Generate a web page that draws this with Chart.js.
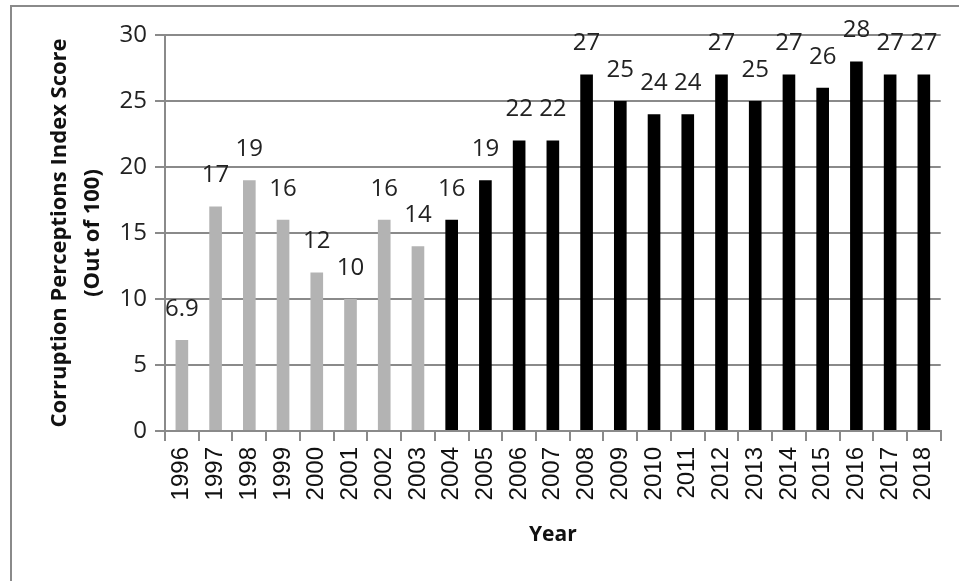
<!DOCTYPE html>
<html lang="en">
<head>
  <meta charset="UTF-8">
  <title>Corruption Perceptions Index Score</title>
  <script src="https://cdn.jsdelivr.net/npm/chart.js"></script>
  <style>
    html, body { margin: 0; padding: 0; background: #fff; overflow: hidden; }
    #wrap { position: relative; width: 959px; height: 581px; }
    #frame {
      position: absolute; left: 10px; top: 5px; width: 1000px; height: 700px;
      border-top: 2px solid #8a8a8a; border-left: 2px solid #8a8a8a;
    }
    #cpiChart { position: absolute; left: 0; top: 0; }
  </style>
</head>
<body>
  <div id="wrap">
    <div id="frame"></div>
    <canvas id="cpiChart" width="959" height="581"></canvas>
  </div>
  <script>
    // Chart data
    const years = ['1996', '1997', '1998', '1999', '2000', '2001', '2002', '2003',
      '2004', '2005', '2006', '2007', '2008', '2009', '2010', '2011',
      '2012', '2013', '2014', '2015', '2016', '2017', '2018'];
    const scores = [6.9, 17, 19, 16, 12, 10, 16, 14,
      16, 19, 22, 22, 27, 25, 24, 24,
      27, 25, 27, 26, 28, 27, 27];
    const yTicks = [0, 5, 10, 15, 20, 25, 30];
    const firstBlackYear = '2004';

    const GRAY = '#b3b3b3';
    const BLACK = '#000000';
    const AXIS = '#8a8a8a';

    // Draw value labels above each bar
    const valueLabels = {
      id: 'valueLabels',
      afterDatasetsDraw(chart) {
        const ctx = chart.ctx;
        const meta = chart.getDatasetMeta(0);
        ctx.save();
        ctx.font = '24px "Open Sans"';
        ctx.fillStyle = '#222';
        ctx.textAlign = 'center';
        ctx.textBaseline = 'middle';
        meta.data.forEach((bar, i) => {
          ctx.fillText(String(scores[i]), bar.x, bar.y - 31);
        });
        ctx.restore();
      }
    };

    new Chart(document.getElementById('cpiChart').getContext('2d'), {
      type: 'bar',
      data: {
        labels: years,
        datasets: [{
          label: 'CPI Score',
          data: scores,
          backgroundColor: years.map(y => y < firstBlackYear ? GRAY : BLACK),
          barPercentage: 0.375,
          categoryPercentage: 1.0
        }]
      },
      options: {
        responsive: false,
        animation: false,
        devicePixelRatio: 1,
        layout: { padding: { top: 35, right: 16, left: 0, bottom: 0 } },
        plugins: {
          legend: { display: false },
          tooltip: { enabled: false }
        },
        scales: {
          x: {
            grid: {
              offset: true,
              drawOnChartArea: false,
              drawTicks: true,
              tickLength: 10,
              color: AXIS,
              lineWidth: 2
            },
            border: { display: true, color: AXIS, width: 2 },
            ticks: {
              minRotation: 90,
              maxRotation: 90,
              padding: 6,
              color: '#111',
              font: { family: '"Liberation Sans", Arial', size: 24 }
            },
            title: {
              display: true,
              text: 'Year',
              color: '#111',
              font: { family: '"Open Sans"', size: 21, weight: 'bold' },
              padding: { top: 0, bottom: 33 }
            },
            afterFit(scale) { scale.height = 150; }
          },
          y: {
            min: 0,
            max: 30,
            afterBuildTicks(scale) { scale.ticks = yTicks.map(v => ({ value: v })); },
            grid: {
              color: AXIS,
              lineWidth: 2,
              drawTicks: true,
              tickLength: 10
            },
            border: { display: true, color: AXIS, width: 2 },
            ticks: {
              padding: 8,
              color: '#222',
              font: { family: '"Open Sans"', size: 24 }
            },
            title: {
              display: true,
              text: ['Corruption Perceptions Index Score', '(Out of 100)'],
              color: '#111',
              font: { family: '"Open Sans"', size: 22, weight: 'bold', lineHeight: 1.5 },
              padding: { top: 43, bottom: 0 }
            },
            afterFit(scale) { scale.width = 165; }
          }
        }
      },
      plugins: [valueLabels]
    });
  </script>
</body>
</html>
